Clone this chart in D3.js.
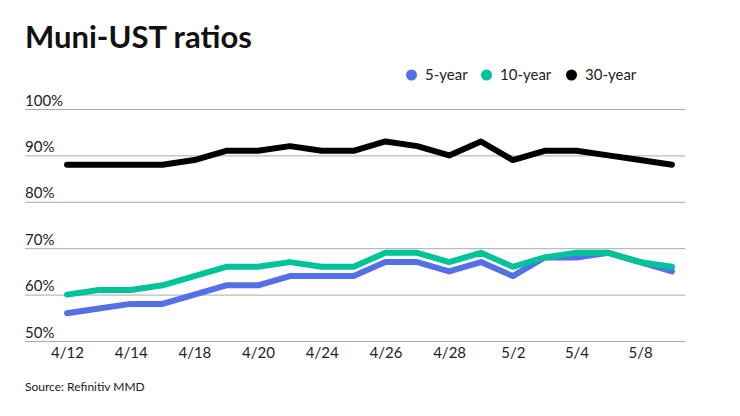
<!DOCTYPE html>
<html>
<head>
<meta charset="utf-8">
<script src="https://cdn.jsdelivr.net/npm/d3@7"></script>
<style>
  body { margin: 0; background: #fff; }
  svg { font-family: Lato, "Open Sans", sans-serif; }
</style>
</head>
<body>
<svg id="chart"></svg>
<script>
const size = { w: 740, h: 416 };

// data
const dates = ['4/12', '4/13', '4/14', '4/15', '4/18', '4/19', '4/20', '4/21', '4/24', '4/25',
    '4/26', '4/27', '4/28', '4/29', '5/2', '5/3', '5/4', '5/5', '5/8', '5/9'];
const tickDates = ['4/12', '4/14', '4/18', '4/20', '4/24', '4/26', '4/28', '5/2', '5/4', '5/8'];
const fiveYear = [56, 57, 58, 58, 60, 62, 62, 64, 64, 64, 67, 67, 65, 67, 64, 68, 68, 69, 67, 65];
const tenYear = [60, 61, 61, 62, 64, 66, 66, 67, 66, 66, 69, 69, 67, 69, 66, 68, 69, 69, 67, 66];
const thirtyYear = [88, 88, 88, 88, 89, 91, 91, 92, 91, 91, 93, 92, 90, 93, 89, 91, 91, 90, 89, 88];
const yTicks = [50, 60, 70, 80, 90, 100];

const series = [
    { name: '5-year', values: fiveYear, color: '#5470e6' },
    { name: '10-year', values: tenYear, color: '#00c39a' },
    { name: '30-year', values: thirtyYear, color: '#000000' }
];

const svg = d3.select('svg#chart')
    .attr('width', size.w)
    .attr('height', size.h);

const plot = { l: 25, r: 685, t: 109, b: 341 };

const x = d3.scalePoint()
    .domain(dates)
    .range([67, 672]);

const y = d3.scaleLinear()
    .domain([50, 100])
    .range([plot.b, plot.t]);

// title
svg.append('text')
    .attr('x', 25)
    .attr('y', 48)
    .attr('font-size', 31)
    .attr('font-weight', 700)
    .attr('fill', '#111')
    .text('Muni-UST ratios');

// y gridlines + labels
const yAxis = svg.append('g')
    .attr('transform', `translate(${plot.l}, 0)`)
    .call(d3.axisRight(y).tickValues(yTicks).tickSize(plot.r - plot.l).tickFormat(d => d + '%'));
yAxis.select('.domain').remove();
yAxis.selectAll('.tick line').attr('stroke', '#aaa').attr('stroke-width', 1);
yAxis.selectAll('.tick text')
    .attr('x', 0)
    .attr('dy', -4)
    .attr('font-size', 15)
    .attr('font-family', 'Lato')
    .attr('fill', '#222');

// x axis labels
const xAxis = svg.append('g')
    .attr('transform', `translate(0, ${plot.b})`)
    .call(d3.axisBottom(x).tickValues(tickDates).tickSize(0));
xAxis.select('.domain').remove();
xAxis.selectAll('.tick text')
    .attr('y', 17)
    .attr('dy', 0)
    .attr('font-size', 15)
    .attr('font-family', 'Lato')
    .attr('fill', '#222');

// lines
const line = d3.line()
    .x((d, i) => x(dates[i]))
    .y(d => y(d));

svg.append('g')
    .selectAll('path')
    .data(series)
    .join('path')
    .attr('d', d => line(d.values))
    .attr('fill', 'none')
    .attr('stroke', d => d.color)
    .attr('stroke-width', 6)
    .attr('stroke-linejoin', 'round')
    .attr('stroke-linecap', 'round');

// legend
const legendX = [411.5, 486.5, 571.5];
const legend = svg.append('g')
    .selectAll('g')
    .data(series)
    .join('g')
    .attr('transform', (d, i) => `translate(${legendX[i]}, 75)`);
legend.append('circle')
    .attr('r', 5.5)
    .attr('fill', d => d.color);
legend.append('text')
    .attr('x', 13.5)
    .attr('y', 5)
    .attr('font-size', 15)
    .attr('fill', '#222')
    .text(d => d.name);

// source
svg.append('text')
    .attr('x', 25)
    .attr('y', 391)
    .attr('font-size', 12)
    .attr('fill', '#222')
    .text('Source: Refinitiv MMD');
</script>
</body>
</html>
